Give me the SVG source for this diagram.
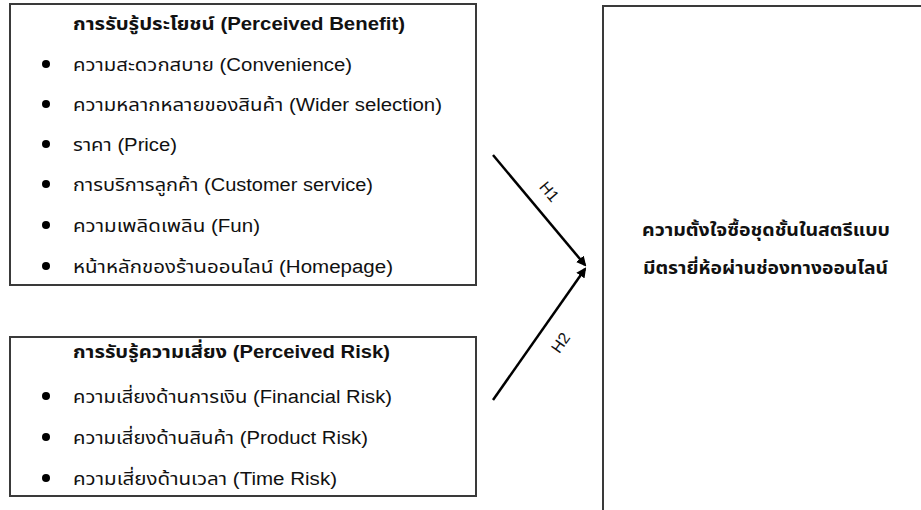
<svg xmlns="http://www.w3.org/2000/svg" width="921" height="510" viewBox="0 0 921 510">
<style>
.box{fill:#fff;stroke:#3a3a3a;stroke-width:2}
text{font-family:"Liberation Sans","Noto Sans Thai","Noto Sans",sans-serif;fill:#111}
.t{font-size:18px;font-weight:bold}
.i{font-size:18px}
.c{font-size:17px;font-weight:bold}
.h{font-size:16px}
.b{fill:#000}
.ln{stroke:#000;stroke-width:2.5;fill:none}
</style>
<defs>
<marker id="ah" markerWidth="10" markerHeight="10" refX="8" refY="5" orient="auto" markerUnits="userSpaceOnUse" viewBox="0 0 10 10">
<path d="M0,0 L10,5 L0,10 z" fill="#000"/>
</marker>
</defs>
<rect x="0" y="0" width="921" height="510" fill="#fff"/>
<g id="benefit">
<rect class="box" x="10" y="4" width="466" height="281"/>
<text class="t" x="73" y="30" textLength="332" lengthAdjust="spacingAndGlyphs">การรับรู้ประโยชน์ (Perceived Benefit)</text>
<circle class="b" cx="46" cy="64" r="4"/><text class="i" x="73" y="71" textLength="279" lengthAdjust="spacingAndGlyphs">ความสะดวกสบาย (Convenience)</text>
<circle class="b" cx="46" cy="104" r="4"/><text class="i" x="73" y="111" textLength="369" lengthAdjust="spacingAndGlyphs">ความหลากหลายของสินค้า (Wider selection)</text>
<circle class="b" cx="46" cy="144" r="4"/><text class="i" x="73" y="151" textLength="104" lengthAdjust="spacingAndGlyphs">ราคา (Price)</text>
<circle class="b" cx="46" cy="184" r="4"/><text class="i" x="73" y="191" textLength="300" lengthAdjust="spacingAndGlyphs">การบริการลูกค้า (Customer service)</text>
<circle class="b" cx="46" cy="225" r="4"/><text class="i" x="73" y="232" textLength="187" lengthAdjust="spacingAndGlyphs">ความเพลิดเพลิน (Fun)</text>
<circle class="b" cx="46" cy="266" r="4"/><text class="i" x="73" y="273" textLength="320" lengthAdjust="spacingAndGlyphs">หน้าหลักของร้านออนไลน์ (Homepage)</text>
</g>
<g id="risk">
<rect class="box" x="10" y="337" width="466" height="159"/>
<text class="t" x="73" y="358" textLength="317" lengthAdjust="spacingAndGlyphs">การรับรู้ความเสี่ยง (Perceived Risk)</text>
<circle class="b" cx="46" cy="396" r="4"/><text class="i" x="73" y="403" textLength="319" lengthAdjust="spacingAndGlyphs">ความเสี่ยงด้านการเงิน (Financial Risk)</text>
<circle class="b" cx="46" cy="437" r="4"/><text class="i" x="73" y="444" textLength="295" lengthAdjust="spacingAndGlyphs">ความเสี่ยงด้านสินค้า (Product Risk)</text>
<circle class="b" cx="46" cy="478" r="4"/><text class="i" x="73" y="485" textLength="264" lengthAdjust="spacingAndGlyphs">ความเสี่ยงด้านเวลา (Time Risk)</text>
</g>
<g id="intention">
<rect class="box" x="603" y="6" width="400" height="600"/>
<text class="c" x="642" y="236" textLength="248" lengthAdjust="spacingAndGlyphs">ความตั้งใจซื้อชุดชั้นในสตรีแบบ</text>
<text class="c" x="643" y="274" textLength="245" lengthAdjust="spacingAndGlyphs">มีตรายี่ห้อผ่านช่องทางออนไลน์</text>
</g>
<g id="connectors">
<line class="ln" x1="493" y1="155" x2="585" y2="265" marker-end="url(#ah)"/>
<line class="ln" x1="493" y1="400" x2="585" y2="269" marker-end="url(#ah)"/>
<text class="h" x="549" y="192" text-anchor="middle" transform="rotate(50 549 192)" dy="5">H1</text>
<text class="h" x="561" y="343" text-anchor="middle" transform="rotate(-55 561 343)" dy="5">H2</text>
</g>
</svg>
